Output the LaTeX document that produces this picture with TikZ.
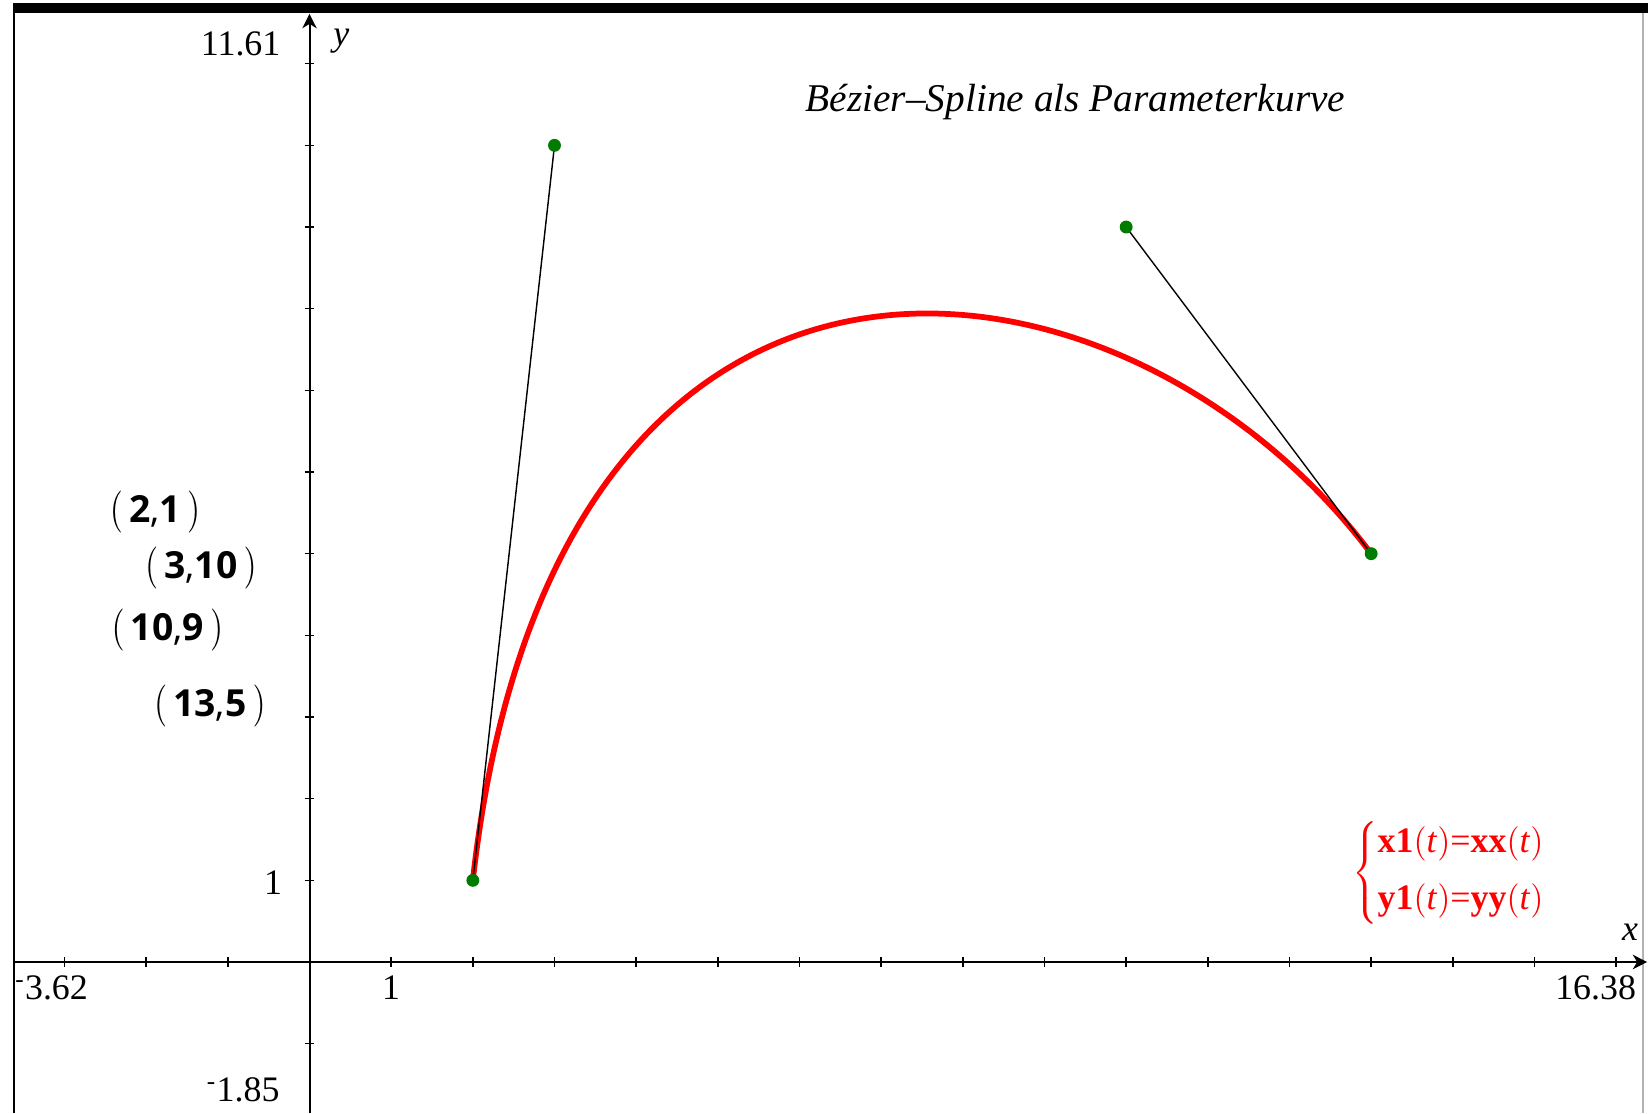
\documentclass[tikz,border=0pt]{standalone}
\usepackage{fontspec}
\setmainfont{Liberation Serif}
\newfontfamily\ptfont{Open Sans}
\usetikzlibrary{arrows.meta}

\definecolor{ptgreen}{RGB}{0,125,0}
\newcommand{\tallparen}[1]{\scalebox{1}[1.22]{$\big#1$}}
\newcommand{\ptpair}[2]{\tallparen{(}\,\textbf{#1},\textbf{#2}\,\tallparen{)}}
\newcommand{\argt}{$\big($\textit{t}$\big)$}

\tikzset{
    axis/.style={line width=0.7pt, -{Stealth[length=5pt,width=5pt,inset=1.5pt]}},
    tick/.style={line width=0.5pt},
    ticklabel/.style={inner sep=0pt, font=\fontsize{12.5}{14}\selectfont},
    dot/.style={circle, fill=ptgreen, inner sep=0pt, minimum size=4.5pt},
    tangent/.style={line width=0.5pt},
    spline/.style={red, line width=2pt},
    ptlabel/.style={inner sep=0pt, font=\ptfont\fontsize{13}{15}\selectfont},
}

\begin{document}
\begin{tikzpicture}
    \useasboundingbox (-3.79,-1.85) rectangle (16.39,11.78);

    % Frame
    \fill[black] (-3.63,11.62) rectangle (16.39,11.74);
    \draw[line width=0.7pt] (-3.62,11.62) -- (-3.62,-1.85);
    \draw[gray!60, line width=0.5pt] (16.33,11.62) -- (16.33,-1.85);

    % Axes
    \draw[axis] (-3.62,0) -- (16.38,0);
    \draw[axis] (0,-1.85) -- (0,11.61);
    \foreach \i in {-3,-2,-1,1,2,...,16}
        \draw[tick] (\i,-0.06) -- (\i,0.06);
    \foreach \j in {-1,1,2,...,11}
        \draw[tick] (-0.06,\j) -- (0.06,\j);

    % Axis labels
    \node[ticklabel, anchor=east] (ymax) at (-0.35,11.24) {11.61};
    \node[ticklabel, anchor=east] (yone) at (-0.33,0.97) {1};
    \node[ticklabel, anchor=east] (ymin) at (-0.36,-1.57) {\textsuperscript{-}1.85};
    \node[ticklabel, anchor=west] (xmin) at (-3.61,-0.32) {\textsuperscript{-}3.62};
    \node[ticklabel] (xone) at (1,-0.32) {1};
    \node[ticklabel, anchor=east] (xmax) at (16.25,-0.32) {16.38};
    \node[ticklabel, font=\fontsize{12.5}{14}\selectfont\itshape] (ylab) at (0.39,11.27) {y};
    \node[ticklabel, font=\fontsize{12.5}{14}\selectfont\itshape] (xlab) at (16.17,0.36) {x};

    % Title
    \node[ticklabel, font=\fontsize{13.7}{15}\selectfont\itshape] (title) at (9.38,10.53) {Bézier–Spline als Parameterkurve};

    % Control points
    \coordinate (P0) at (2,1);
    \coordinate (P1) at (3,10);
    \coordinate (P2) at (10,9);
    \coordinate (P3) at (13,5);

    % Spline and tangents
    \draw[spline] (P0) .. controls (P1) and (P2) .. (P3);
    \draw[tangent] (P0) -- (P1);
    \draw[tangent] (P3) -- (P2);
    \foreach \p in {P0,P1,P2,P3}
        \node[dot] (dot\p) at (\p) {};

    % Point list
    \node[ptlabel] (lab0) at (-1.89,5.51) {\ptpair{2}{1}};
    \node[ptlabel] (lab1) at (-1.33,4.83) {\ptpair{3}{10}};
    \node[ptlabel] (lab2) at (-1.74,4.06) {\ptpair{10}{9}};
    \node[ptlabel] (lab3) at (-1.22,3.14) {\ptpair{13}{5}};

    % Parametric equations
    \node[ticklabel, text=red] (eqn) at (13.96,1.09)
        {$\left\{\begin{tabular}{@{}l@{}}\textbf{x1}\argt=\textbf{xx}\argt\\[6pt]\textbf{y1}\argt=\textbf{yy}\argt\end{tabular}\right.$};
\end{tikzpicture}
\end{document}
